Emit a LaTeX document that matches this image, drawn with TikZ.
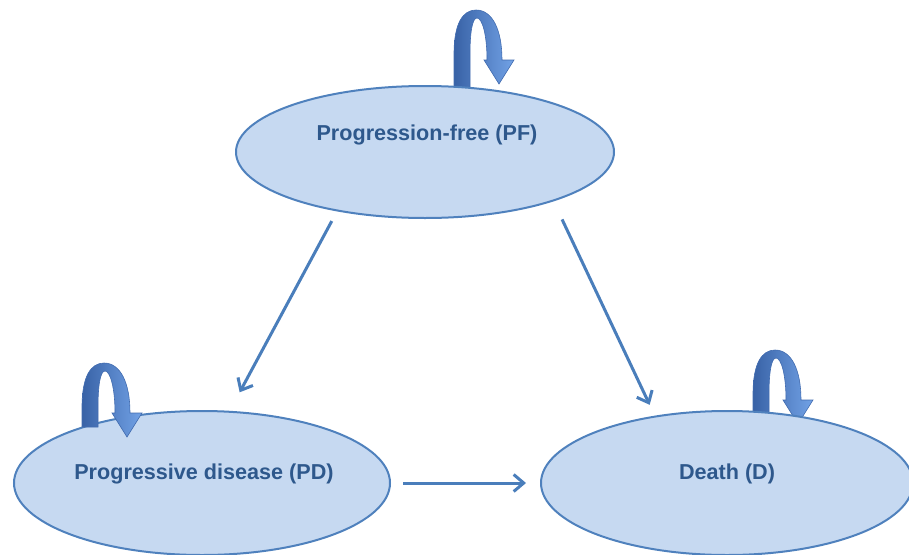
\documentclass[tikz,border=0pt]{standalone}
\usepackage{fontspec}
\setmainfont{Liberation Sans}
\usetikzlibrary{shapes.geometric,arrows.meta,calc}

\definecolor{stateFill}{RGB}{198,217,241}
\definecolor{stateLine}{RGB}{79,129,189}
\definecolor{labelText}{RGB}{46,88,140}
\definecolor{linkLine}{RGB}{74,126,187}
\definecolor{loopDark}{RGB}{56,98,166}
\definecolor{loopLight}{RGB}{114,162,230}
\definecolor{loopEdge}{RGB}{66,108,176}

\tikzset{
  state/.style={ellipse, draw=stateLine, line width=2pt, fill=stateFill,
    inner sep=0pt, minimum width=378pt, minimum height=132pt},
  statelabel/.style={font=\bfseries\fontsize{21.6}{25}\selectfont,
    text=labelText, inner sep=0pt, anchor=base},
  link/.style={draw=linkLine, line width=3pt,
    -{Straight Barb[length=10pt,width=17pt]}},
  % curved self-transition arrow; origin at the arrow tip, #1 = bottom of the legs
  pics/selfloop/.style={code={
    \path[left color=loopDark, right color=loopLight, draw=loopEdge, line width=0.6pt]
      (-45,#1) -- (-45,-30)
      .. controls (-45,-61) and (-36,-74) .. (-23,-74)
      .. controls (-7,-74) and (3,-55) .. (3,-24)
      -- (15,-24) -- (0,0) -- (-15,-24) -- (-12,-24)
      .. controls (-12,-50) and (-17,-66) .. (-22,-66)
      .. controls (-27,-66) and (-29,-50) .. (-29,-30)
      -- (-29,#1) -- cycle;
  }}
}

\begin{document}
\begin{tikzpicture}[x=1pt, y=-1pt]
  \useasboundingbox (0,0) rectangle (909,554);
  \clip (0,0) rectangle (909,554);

  \coordinate (cPF) at (425,152);
  \coordinate (cPD) at (202,483);
  \coordinate (cD)  at (727,483);

  % loops that tuck under their states
  \pic at ($(cPF)+(74,-68)$) {selfloop=12};
  \pic at ($(cD)+(71,-59)$) {selfloop=12};

  % states
  \node[state] (PF) at (cPF) {};
  \node[state, minimum width=376pt, minimum height=144pt] (PD) at (cPD) {};
  \node[state, minimum width=372pt, minimum height=144pt] (D) at (cD) {};

  \node[statelabel] (tPF) at ($(cPF)+(2,-12)$) {Progression-free (PF)};
  \node[statelabel] (tPD) at ($(cPD)+(2,-4)$) {Progressive disease (PD)};
  \node[statelabel] (tD)  at ($(cD)+(0,-4)$) {Death (D)};

  % loop drawn over its state
  \pic at ($(cPD)+(-75,-46)$) {selfloop=-10};

  % transitions
  \draw[link, shorten <=11pt, shorten >=21pt] (PF.214) -- (PD.69);
  \draw[link, shorten <=20pt, shorten >=12pt] (PF.339.6) -- (D.137.9);
  \draw[link, shorten <=12pt, shorten >=14pt] (PD.east) -- (D.west);
\end{tikzpicture}
\end{document}
